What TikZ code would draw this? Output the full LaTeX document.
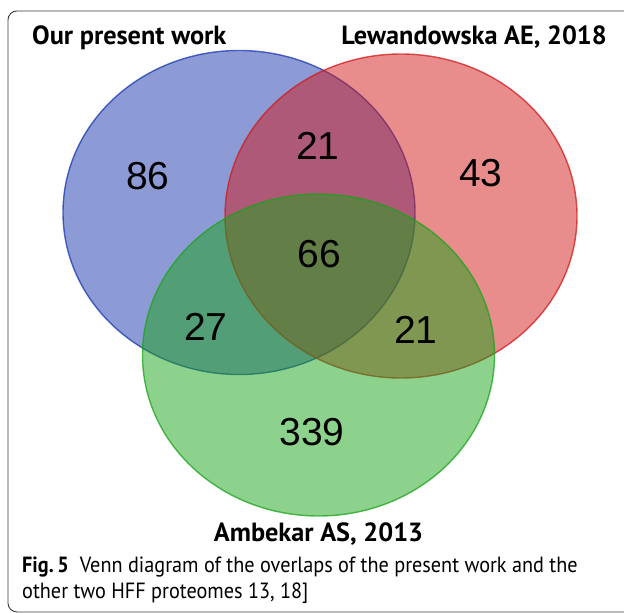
\documentclass[tikz,border=0pt]{standalone}
\usepackage{fontspec}
\setmainfont{PT Sans}
\newfontfamily\numfont{Liberation Sans}
\newfontfamily\capfont[FakeStretch=0.92]{PT Sans}
\usepackage{tikz}
\usepackage{xcolor}
\usetikzlibrary{shapes.geometric, positioning}
\definecolor{VennBlue}{HTML}{1937AD}
\definecolor{VennRed}{HTML}{D11919}
\definecolor{VennGreen}{HTML}{19A319}
\definecolor{FrameGray}{HTML}{3A3A3A}
\tikzset{
    setcircle/.style={
        ellipse,
        draw=#1,
        draw opacity=0.75,
        fill=#1,
        fill opacity=0.5,
        line width=1.4pt,
        minimum width=352pt,
        minimum height=324pt,
        inner sep=0pt
    },
    setcircle/.default=VennBlue,
    setlabel/.style={
        font=\fontsize{26.3}{31}\selectfont\bfseries,
        text=black,
        inner sep=0pt
    },
    countlabel/.style={
        font=\numfont\fontsize{39}{45}\selectfont,
        text=black,
        inner sep=0pt
    },
    caption/.style={
        font=\capfont\fontsize{22}{26}\selectfont,
        align=left,
        inner sep=0pt
    },
    framebox/.style={
        draw=FrameGray,
        line width=0.9pt,
        rounded corners=9pt
    }
}

\begin{document}
\begin{tikzpicture}[x=1pt, y=-1pt]
        \useasboundingbox (0,0) rectangle (624,613);
        % Outer frame
        \node[framebox, minimum width=640pt, minimum height=601pt, anchor=north west] (frame) at (7.5,10.5) {};

        % Set circles
        \node[setcircle=VennBlue] (ours) at (239,212.5) {};
        \node[setcircle=VennRed] (lewan) at (401,216) {};
        \node[setcircle=VennGreen, minimum height=322pt] (ambek) at (318.5,355) {};

        % Set names
        \node[setlabel, anchor=base west] (oursname) at (32,44.3) {Our present work};
        \node[setlabel, anchor=base east] (lewanname) at (607,44.3) {Lewandowska AE, 2018};
        \node[setlabel, anchor=base] (ambekname) at (318.5,541.7) {Ambekar AS, 2013};

        % Counts
        \node[countlabel] (only1) at (148,176) {86};
        \node[countlabel] (only2) at (481,173) {43};
        \node[countlabel] (only3) at (312,432) {339};
        \node[countlabel] (both12) at (318,146) {21};
        \node[countlabel] (both13) at (206,327) {27};
        \node[countlabel] (both23) at (416,330) {21};
        \node[countlabel] (all) at (319.5,254) {66};

        % Caption
        \node[caption, anchor=base west] (cap1) at (22,572) {\textbf{Fig.\,5}\enspace Venn diagram of the overlaps of the present work and the};
        \node[caption, anchor=base west] (cap2) at (22,598) {other two HFF proteomes 13, 18]};
    \end{tikzpicture}
\end{document}
